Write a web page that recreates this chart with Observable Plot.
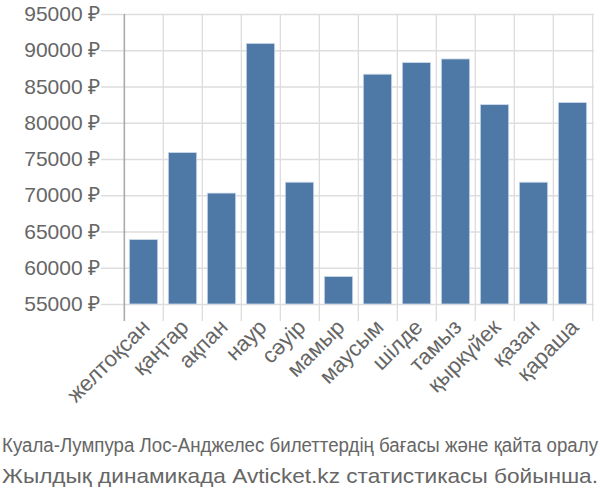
<!DOCTYPE html>
<html><head><meta charset="utf-8">
<script src="https://cdn.jsdelivr.net/npm/d3@7"></script>
<script src="https://cdn.jsdelivr.net/npm/@observablehq/plot@0.6"></script>
<style>
body{margin:0;background:#fff;font-family:"Liberation Sans",Arial,sans-serif;}
#c svg{display:block}
</style></head>
<body><div id="c"></div>
<script>
const months = ["желтоқсан","қаңтар","ақпан","наур","сәуір","мамыр","маусым","шілде","тамыз","қыркүйек","қазан","қараша"];
const prices = [63900, 75900, 70300, 90950, 71800, 58800, 86700, 88300, 88800, 82500, 71800, 82800];
const yTicks = [55000, 60000, 65000, 70000, 75000, 80000, 85000, 90000, 95000];
const captionLines = ["Куала-Лумпура Лос-Анджелес билеттердің бағасы және қайта оралу", "Жылдық динамикада Avticket.kz статистикасы бойынша."];

const data = months.map((m, i) => ({month: m, price: prices[i]}));
const W = 600, H = 420, mL = 122, mR = 6, mT = 14, mB = 116;
const step = (W - mL - mR) / months.length;

const chart = Plot.plot({
  width: W, height: H,
  marginLeft: mL, marginRight: mR, marginTop: mT, marginBottom: mB,
  style: {fontFamily: '"Liberation Sans", Arial, sans-serif', fontSize: "21px", color: "#666", background: "#fff"},
  x: {domain: months, padding: 0, label: null},
  y: {domain: [55000, 95000], label: null},
  marks: [
    Plot.ruleY(yTicks, {y: d => d, stroke: "#ddd", strokeWidth: 1.3, insetLeft: -21}),
    Plot.ruleX(months, {x: d => d, dx: -step / 2, y1: 95000, y2: 55000, insetBottom: -17, stroke: (d, i) => i === 0 ? "#aaa" : "#ddd", strokeWidth: (d, i) => i === 0 ? 1.6 : 1.3}),
    Plot.ruleX([months[months.length - 1]], {x: d => d, dx: step / 2, y1: 95000, y2: 55000, insetBottom: -17, stroke: "#ddd", strokeWidth: 1.3}),
    Plot.barY(data, {x: "month", y1: 55000, y2: "price", fill: "#4e79a7", stroke: "#cfdceb", strokeWidth: 0.8, insetLeft: 5.3, insetRight: 5.3}),
    Plot.axisY({ticks: yTicks, tickFormat: d => d + " ₽", tickSize: 0, tickPadding: 22, fill: "#666", fontSize: 21}),
    Plot.axisX({tickRotate: -45, tickSize: 0, tickPadding: 19, dx: 2, fill: "#666", fontSize: 22})
  ]
});
document.getElementById("c").appendChild(chart);

const ns = "http://www.w3.org/2000/svg";
const cap = document.createElementNS(ns, "svg");
cap.setAttribute("width", W); cap.setAttribute("height", 80);
const capY = [32, 63], capLen = [596, 596], capSize = [17, 19], capStretch = [1.15, 1.05];
captionLines.forEach((t, i) => {
  const el = document.createElementNS(ns, "text");
  el.setAttribute("x", 0); el.setAttribute("y", 0);
  el.setAttribute("transform", `translate(2,${capY[i]}) scale(1,${capStretch[i]})`);
  el.setAttribute("font-size", capSize[i]);
  el.setAttribute("fill", "#666");
  el.setAttribute("font-family", '"Liberation Sans", Arial, sans-serif');
  el.setAttribute("textLength", capLen[i]);
  el.setAttribute("lengthAdjust", "spacingAndGlyphs");
  el.textContent = t;
  cap.appendChild(el);
});
document.getElementById("c").appendChild(cap);
</script></body></html>
